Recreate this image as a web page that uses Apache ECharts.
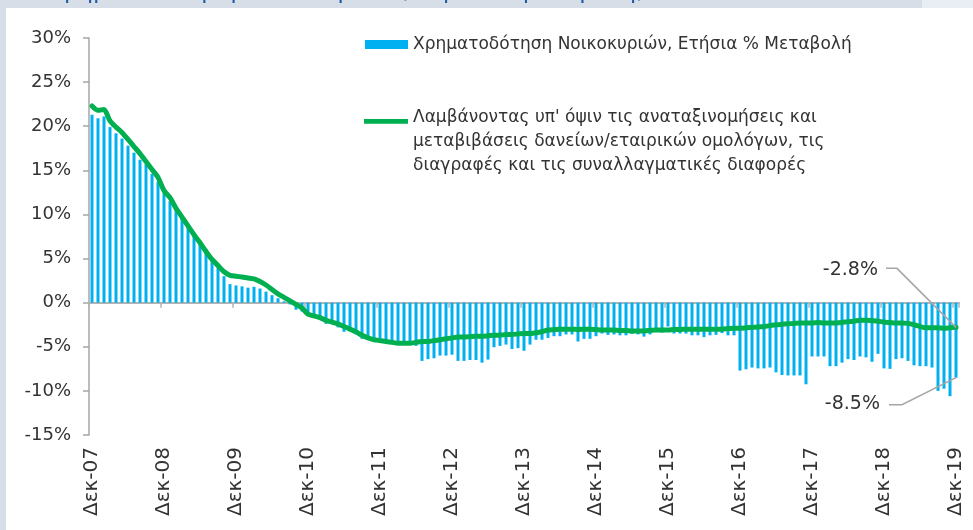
<!DOCTYPE html>
<html><head><meta charset="utf-8">
<script src="https://cdn.jsdelivr.net/npm/echarts@6/dist/echarts.min.js"></script>
<style>html,body{margin:0;padding:0;background:#fff}#c{width:973px;height:530px}</style>
</head><body><div id="c"></div>
<script>
const FONT = "'DejaVu Sans', sans-serif";
const chartTitle = "Σ3: Χρηματοδότηση Νοικοκυριών (ετήσια % μεταβολή)";
const months = ['Ιαν','Φεβ','Μαρ','Απρ','Μαϊ','Ιουν','Ιουλ','Αυγ','Σεπ','Οκτ','Νοε','Δεκ'];
const years = ['08','09','10','11','12','13','14','15','16','17','18','19'];
const categories = ['Δεκ-07'];
years.forEach(y => months.forEach(m => categories.push(m + '-' + y)));

const barName = 'Χρηματοδότηση Νοικοκυριών, Ετήσια % Μεταβολή';
const lineNameLines = [
  "Λαμβάνοντας υπ' όψιν τις αναταξινομήσεις και",
  "μεταβιβάσεις δανείων/εταιρικών ομολόγων, τις",
  "διαγραφές και τις συναλλαγματικές διαφορές"
];
const lineName = lineNameLines.join(' ');

// Annual % change of household credit (bars), Dec-07 .. Dec-19
const creditGrowth = [
  21.3,
  20.9, 21.1, 19.9, 19.2, 18.6, 17.8, 17.0, 16.2, 15.7, 14.6, 13.7, 12.4,
  11.5, 10.5, 9.7, 8.8, 7.9, 7.0, 6.1, 5.0, 4.0, 3.0, 2.1, 1.95,
  1.85, 1.7, 1.8, 1.6, 1.25, 0.85, 0.5, 0.15, -0.2, -0.8, -1.0, -1.4,
  -1.3, -1.85, -2.4, -2.2, -2.8, -3.3, -3.15, -3.6, -4.1, -3.8, -4.1, -4.3,
  -4.4, -4.5, -4.6, -4.6, -4.6, -4.9, -6.6, -6.4, -6.3, -6.0, -6.0, -5.9,
  -6.6, -6.6, -6.5, -6.5, -6.8, -6.45, -5.05, -4.9, -4.75, -5.25, -5.15, -5.45,
  -4.75, -4.2, -4.2, -4.0, -3.8, -3.8, -3.6, -3.6, -4.4, -4.1, -4.1, -3.8,
  -3.5, -3.65, -3.6, -3.7, -3.7, -3.55, -3.6, -3.85, -3.6, -3.3, -3.4, -2.7,
  -3.5, -3.5, -3.5, -3.7, -3.7, -3.9, -3.7, -3.65, -3.45, -3.7, -3.7, -7.7,
  -7.55, -7.35, -7.45, -7.45, -7.35, -7.9, -8.2, -8.25, -8.25, -8.25, -9.25, -6.1,
  -6.1, -6.1, -7.2, -7.2, -6.8, -6.4, -6.5, -6.1, -6.2, -6.7, -5.8, -7.45,
  -7.5, -6.4, -6.3, -6.6, -7.1, -7.2, -7.2, -7.35, -10.0, -9.75, -10.6, -8.5
];

// Adjusted for reclassifications, transfers, write-offs and FX (line)
const adjustedGrowth = [
  22.3,
  21.8, 21.9, 20.6, 19.9, 19.3, 18.5, 17.7, 16.9, 16.0, 15.1, 14.2, 12.7,
  11.9, 10.7, 9.7, 8.7, 7.7, 6.8, 5.8, 4.9, 4.2, 3.5, 3.1, 3.0,
  2.9, 2.8, 2.7, 2.4, 2.0, 1.5, 1.0, 0.6, 0.2, -0.2, -0.6, -1.3,
  -1.5, -1.7, -2.0, -2.2, -2.4, -2.7, -3.0, -3.3, -3.7, -4.0, -4.2, -4.3,
  -4.4, -4.5, -4.6, -4.6, -4.6, -4.5, -4.4, -4.4, -4.3, -4.2, -4.1, -4.0,
  -3.9, -3.9, -3.85, -3.8, -3.8, -3.75, -3.7, -3.7, -3.6, -3.6, -3.55, -3.5,
  -3.5, -3.4, -3.3, -3.1, -3.05, -3.0, -3.0, -3.0, -3.05, -3.0, -3.0, -3.05,
  -3.1, -3.1, -3.1, -3.15, -3.15, -3.2, -3.2, -3.2, -3.15, -3.1, -3.1, -3.1,
  -3.05, -3.05, -3.0, -3.0, -3.0, -3.0, -3.0, -3.0, -3.0, -2.95, -2.9, -2.9,
  -2.85, -2.8, -2.75, -2.7, -2.6, -2.5, -2.45, -2.4, -2.35, -2.3, -2.3, -2.3,
  -2.25, -2.3, -2.3, -2.3, -2.25, -2.15, -2.1, -2.0, -2.0, -2.05, -2.1, -2.2,
  -2.25, -2.3, -2.3, -2.35, -2.5, -2.7, -2.85, -2.85, -2.85, -2.9, -2.85, -2.8
];

const yMin = -15, yMax = 30, yStep = 5;

const chart = echarts.init(document.getElementById('c'), null, {renderer: 'canvas'});

const bgGraphics = [
  {type: 'rect', id: 'bg', z: -100, silent: true, shape: {x: 0, y: 0, width: 973, height: 530}, style: {fill: '#d7dee7'}},
  {type: 'rect', id: 'bgr', z: -99, silent: true, shape: {x: 922, y: 0, width: 51, height: 8}, style: {fill: '#e9eef5'}},
  {type: 'text', id: 'ttl', z: -98, silent: true, x: 4, y: 4, style: {text: chartTitle, fill: '#1f5aa6', font: "23px " + FONT, align: 'left', verticalAlign: 'bottom', textAlign: 'left', textVerticalAlign: 'bottom'}},
  {type: 'rect', id: 'panel', z: -97, silent: true, shape: {x: 6, y: 8, width: 967, height: 522}, style: {fill: '#ffffff'}}
];

chart.setOption({
  animation: false,
  textStyle: {fontFamily: FONT},
  grid: {left: 89, right: 14, top: 38, bottom: 95, containLabel: false, outerBoundsMode: 'none'},
  legend: [
    {
      data: [{name: barName, icon: 'rect'}],
      left: 365, top: 36, padding: 0, itemWidth: 43, itemHeight: 9,
      selectedMode: false,
      textStyle: {fontSize: 17, color: '#333', fontFamily: FONT}
    },
    {
      // line icon sits at the top of a tall box so it lines up with the first text line
      data: [{name: lineName, icon: 'path://M0,0H46V5H0Z M0,47.9H0.1V48H0Z'}],
      left: 364, top: 106, padding: 0, itemWidth: 44, itemHeight: 48,
      selectedMode: false,
      formatter: () => lineNameLines.join('\n'),
      textStyle: {fontSize: 17, color: '#333', fontFamily: FONT, lineHeight: 24}
    }
  ],
  xAxis: [
    {
      type: 'category', data: categories, boundaryGap: true,
      axisLine: {show: true, onZero: true, lineStyle: {color: '#b4b4b4', width: 2}},
      axisTick: {show: true, interval: 11, length: 5, lineStyle: {color: '#b4b4b4', width: 1.5}},
      axisLabel: {show: false},
      splitLine: {show: false}
    },
    {
      type: 'category', data: categories, boundaryGap: true, position: 'bottom',
      axisLine: {show: false, onZero: false},
      axisTick: {show: false},
      axisLabel: {show: true, interval: 11, rotate: 90, fontSize: 20, color: '#333', margin: 12, fontFamily: FONT},
      splitLine: {show: false}
    }
  ],
  yAxis: {
    type: 'value', min: yMin, max: yMax, interval: yStep,
    axisLine: {show: true, lineStyle: {color: '#a6a6a6', width: 1.5}},
    axisTick: {show: true, length: 6, lineStyle: {color: '#a6a6a6', width: 1.5}},
    axisLabel: {formatter: '{value}%', fontSize: 18, color: '#333', margin: 18, fontFamily: FONT},
    splitLine: {show: false}
  },
  series: [
    {
      type: 'bar', name: barName, data: creditGrowth, xAxisIndex: 0,
      barWidth: '50%', itemStyle: {color: '#00b0f0'}, z: 2
    },
    {
      type: 'line', name: lineName, data: adjustedGrowth, xAxisIndex: 0,
      showSymbol: false, symbol: 'none', smooth: 0.25,
      lineStyle: {width: 5, color: '#00b050', cap: 'round', join: 'round'},
      itemStyle: {color: '#00b050'}, z: 3
    }
  ],
  graphic: bgGraphics
});

// annotations for the last observation
const last = categories.length - 1;
const pL = chart.convertToPixel({seriesIndex: 1}, [last, adjustedGrowth[last]]);
const pB = chart.convertToPixel({seriesIndex: 0}, [last, creditGrowth[last]]);
const fmt = v => v.toFixed(1) + '%';
const leaderStyle = {stroke: '#a6a6a6', lineWidth: 1.5, fill: null};
const annStyle = (t) => ({text: t, fill: '#333', font: '19px ' + FONT, align: 'right', verticalAlign: 'middle', textAlign: 'right', textVerticalAlign: 'middle'});
chart.setOption({
  graphic: bgGraphics.concat([
    {type: 'polyline', id: 'ldL', z: 10, silent: true, shape: {points: [[pL[0], pL[1]], [pL[0] - 59, pL[1] - 59], [pL[0] - 70, pL[1] - 59]]}, style: leaderStyle},
    {type: 'text', id: 'txL', z: 10, silent: true, x: pL[0] - 78, y: pL[1] - 57, style: annStyle(fmt(adjustedGrowth[last]))},
    {type: 'polyline', id: 'ldB', z: 10, silent: true, shape: {points: [[pB[0], pB[1]], [pB[0] - 54, pB[1] + 27], [pB[0] - 67, pB[1] + 27]]}, style: leaderStyle},
    {type: 'text', id: 'txB', z: 10, silent: true, x: pB[0] - 76, y: pB[1] + 26, style: annStyle(fmt(creditGrowth[last]))}
  ])
});
</script>
</body></html>
